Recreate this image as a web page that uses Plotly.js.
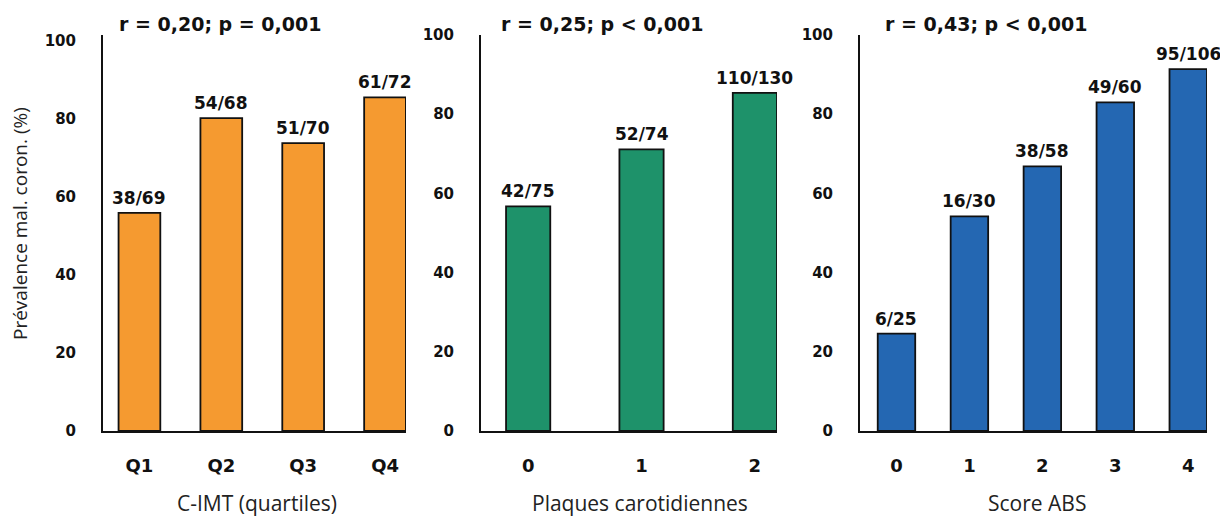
<!DOCTYPE html>
<html>
<head>
<meta charset="utf-8">
<script src="https://cdn.plot.ly/plotly-3.0.1.min.js"></script>
<style>html,body{margin:0;padding:0;background:#fff;}#chart{width:1220px;height:516px;}</style>
</head>
<body>
<div id="chart"></div>
<script>
// ---- data ----
const cats1 = ['Q1', 'Q2', 'Q3', 'Q4'];
const vals1 = [55.9, 80.2, 73.8, 85.5];
const labels1 = ['38/69', '54/68', '51/70', '61/72'];

const cats2 = ['0', '1', '2'];
const vals2 = [56.7, 71.1, 85.4];
const labels2 = ['42/75', '52/74', '110/130'];

const cats3 = ['0', '1', '2', '3', '4'];
const vals3 = [24.6, 54.2, 66.8, 83.0, 91.4];
const labels3 = ['6/25', '16/30', '38/58', '49/60', '95/106'];

const panelTitles = ['r = 0,20; p = 0,001', 'r = 0,25; p < 0,001', 'r = 0,43; p < 0,001'];
const xTitles = ['C-IMT (quartiles)', 'Plaques carotidiennes', 'Score ABS'];
const yTitle = 'Prévalence mal. coron. (%)';
const yTicks = [0, 20, 40, 60, 80, 100];

// ---- styling ----
const colors = ['#F59A30', '#1E926A', '#2467B2'];
const boldFont = {family: 'DejaVu Sans', weight: 'bold', color: '#111'};
const W = 1220, H = 516;
const px = v => v / W;
const py = v => 1 - v / H;

const panels = [
  {cats: cats1, vals: vals1, labels: labels1, dom: [103, 406], range: [-0.445, 3.256], yr: [0, 101.5], bw: 0.51, tx: 220},
  {cats: cats2, vals: vals2, labels: labels2, dom: [481, 777], range: [-0.416, 2.195], yr: [0, 100], bw: 0.39, tx: 602},
  {cats: cats3, vals: vals3, labels: labels3, dom: [860, 1207], range: [-0.5, 4.257], yr: [0, 100], bw: 0.514, tx: 986}
];

const traces = [];
const layout = {
  width: W, height: H,
  margin: {l: 0, r: 0, t: 0, b: 0},
  paper_bgcolor: '#fff', plot_bgcolor: '#fff',
  showlegend: false,
  annotations: []
};

const xTitleCenters = [257, 640, 1037];

panels.forEach((p, i) => {
  const n = i === 0 ? '' : String(i + 1);
  traces.push({
    type: 'bar',
    x: p.cats, y: p.vals,
    width: p.bw,
    marker: {color: colors[i], line: {color: '#111', width: 1.8}},
    xaxis: 'x' + n, yaxis: 'y' + n,
    hoverinfo: 'none'
  });
  p.cats.forEach((c, k) => {
    layout.annotations.push({
      xref: 'x' + n, yref: 'y' + n, x: c, y: p.vals[k],
      xanchor: 'center', yanchor: 'bottom', yshift: 3,
      showarrow: false, text: p.labels[k],
      font: Object.assign({size: 17}, boldFont)
    });
  });
  layout['xaxis' + n] = {
    domain: [px(p.dom[0]), px(p.dom[1])],
    anchor: 'y' + n,
    type: 'category',
    range: p.range,
    showline: true, linecolor: '#111', linewidth: 2,
    showgrid: false, zeroline: false, ticks: '',
    ticklabelstandoff: 17,
    tickfont: Object.assign({size: 18}, boldFont),
    fixedrange: true
  };
  layout['yaxis' + n] = {
    domain: [py(431), py(35)],
    anchor: 'x' + n,
    range: p.yr,
    tickvals: yTicks,
    showline: true, linecolor: '#111', linewidth: 2,
    showgrid: false, zeroline: false, ticks: '',
    ticklabelstandoff: 22,
    tickfont: Object.assign({size: 15}, boldFont),
    fixedrange: true
  };
  layout.annotations.push({
    xref: 'paper', yref: 'paper', x: px(p.tx), y: py(24),
    xanchor: 'center', yanchor: 'middle', showarrow: false,
    text: panelTitles[i],
    font: Object.assign({size: 19}, boldFont)
  });
  layout.annotations.push({
    xref: 'paper', yref: 'paper', x: px(xTitleCenters[i]), y: py(503),
    xanchor: 'center', yanchor: 'middle', showarrow: false,
    text: xTitles[i],
    font: {family: 'Open Sans', size: 21, color: '#222'}
  });
});

layout.annotations.push({
  xref: 'paper', yref: 'paper', x: px(20), y: py(224),
  xanchor: 'center', yanchor: 'middle', showarrow: false,
  textangle: -90,
  text: yTitle,
  font: {family: 'Open Sans', size: 19, color: '#222'}
});

Plotly.newPlot('chart', traces, layout, {displayModeBar: false, staticPlot: true});
</script>
</body>
</html>
